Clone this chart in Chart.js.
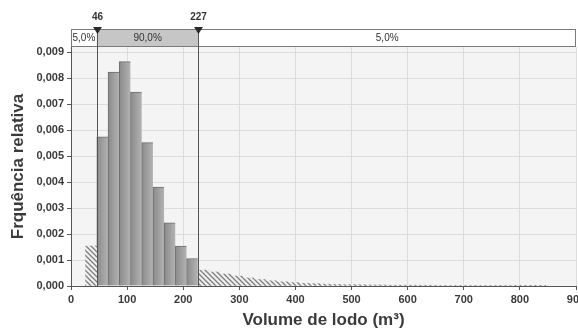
<!DOCTYPE html>
<html lang="pt">
<head>
<meta charset="UTF-8">
<title>Volume de lodo</title>
<script src="https://cdn.jsdelivr.net/npm/chart.js"></script>
<style>
    body { margin: 0; padding: 0; background: #ffffff; }
    #wrap { width: 578px; height: 331px; }
</style>
</head>
<body>
<div id="wrap"><canvas id="histChart" width="578" height="331"></canvas></div>
<script>
    // histogram bins (bin centres, m³) and relative frequencies
    const binWidth = 20;
    const lowerTailX = [36];
    const lowerTailY = [0.00154];
    const middleX = [56, 76, 96, 116, 136, 156, 176, 196, 216];
    const middleY = [0.00574, 0.00823, 0.00864, 0.00746, 0.00552, 0.00381, 0.00243, 0.00154, 0.00106];
    const upperTailX = [236, 256, 276, 296, 316, 336, 356, 376, 396, 416, 436, 456, 476, 496, 516, 536,
        556, 576, 596, 616, 636, 656, 676, 696, 716, 736, 756, 776, 796, 816, 836];
    const upperTailY = [0.00061, 0.00054, 0.00046, 0.00038, 0.00031, 0.00025, 0.00020, 0.00016, 0.00013,
        0.00010, 0.00009, 0.00007, 0.00006, 0.00005, 0.00005, 0.00004, 0.00004, 0.00003, 0.00003, 0.00003,
        0.00003, 0.00002, 0.00002, 0.00002, 0.00002, 0.00002, 0.00002, 0.00002, 0.00001, 0.00001, 0.00001];

    // percentile delimiters and band captions
    const markers = [46, 227];
    const bandLabels = ['5,0%', '90,0%', '5,0%'];

    const xTicks = [0, 100, 200, 300, 400, 500, 600, 700, 800, 900];
    const yTicks = [0, 0.001, 0.002, 0.003, 0.004, 0.005, 0.006, 0.007, 0.008, 0.009];

    const toPoints = (xs, ys) => xs.map((x, i) => ({ x: x, y: ys[i] }));

    // diagonal hatch for the tail bins
    function makeHatch() {
        const c = document.createElement('canvas');
        c.width = 5; c.height = 5;
        const g = c.getContext('2d');
        g.fillStyle = '#f0f0f0';
        g.fillRect(0, 0, 5, 5);
        g.strokeStyle = '#7e7e7e';
        g.lineWidth = 1.3;
        g.beginPath();
        g.moveTo(0, 0); g.lineTo(5, 5);
        g.moveTo(-1, 4); g.lineTo(1, 6);
        g.moveTo(4, -1); g.lineTo(6, 1);
        g.stroke();
        return g.createPattern(c, 'repeat');
    }
    const hatch = makeHatch();

    function barShade(ctx) {
        const xs = ctx.chart.scales.x;
        if (!xs || ctx.type !== 'data') return '#a0a0a0';
        const c = middleX[ctx.dataIndex];
        const x0 = xs.getPixelForValue(c - binWidth / 2);
        const x1 = xs.getPixelForValue(c + binWidth / 2);
        if (!isFinite(x0) || !isFinite(x1) || x0 === x1) return '#a0a0a0';
        const grad = ctx.chart.ctx.createLinearGradient(x0, 0, x1, 0);
        grad.addColorStop(0, '#8a8a8a');
        grad.addColorStop(1, '#b3b3b3');
        return grad;
    }

    const plotBackground = {
        id: 'plotBackground',
        beforeDraw(chart) {
            const { ctx, chartArea: a } = chart;
            ctx.save();
            ctx.fillStyle = '#f4f4f4';
            ctx.fillRect(a.left, a.top, a.right - a.left, a.bottom - a.top);
            ctx.restore();
        }
    };

    // percentile band above the plot with delimiter lines
    const delimiterBand = {
        id: 'delimiterBand',
        afterDatasetsDraw(chart) {
            const { ctx, chartArea: a, scales: { x } } = chart;
            const p0 = x.getPixelForValue(markers[0]);
            const p1 = x.getPixelForValue(markers[1]);
            const top = a.top - 18, h = 18;
            const right = a.right;
            ctx.save();
            ctx.fillStyle = '#ffffff';
            ctx.fillRect(a.left, top, right - a.left, h);
            ctx.fillStyle = '#c6c6c6';
            ctx.fillRect(p0, top, p1 - p0, h);
            ctx.strokeStyle = '#7a7a7a';
            ctx.lineWidth = 1;
            ctx.strokeRect(a.left + 0.5, top + 0.5, right - a.left - 1, h - 1);

            ctx.fillStyle = '#333';
            ctx.font = '10px "Liberation Sans Narrow", "Liberation Sans", sans-serif';
            ctx.textAlign = 'center';
            ctx.textBaseline = 'middle';
            const mids = [(a.left + p0) / 2, (p0 + p1) / 2, (p1 + right) / 2];
            bandLabels.forEach((t, i) => ctx.fillText(t, mids[i], top + h / 2));

            ctx.strokeStyle = '#555';
            [p0, p1].forEach((p, i) => {
                const px = Math.round(p) + 0.5;
                ctx.beginPath();
                ctx.moveTo(px, top);
                ctx.lineTo(px, a.bottom);
                ctx.stroke();
                ctx.beginPath();
                ctx.moveTo(px - 4.5, top - 2);
                ctx.lineTo(px + 4.5, top - 2);
                ctx.lineTo(px, top + 5);
                ctx.closePath();
                ctx.fillStyle = '#2a2a2a';
                ctx.fill();
                ctx.fillStyle = '#333';
                ctx.font = 'bold 10px "Liberation Sans Narrow", "Liberation Sans", sans-serif';
                ctx.fillText(String(markers[i]), px, top - 12);
            });
            ctx.restore();
        }
    };

    const tickFont = { family: '"Liberation Sans", Arial, sans-serif', size: 11, weight: 'bold' };
    const titleFont = { family: '"Liberation Sans", Arial, sans-serif', size: 17, weight: 'bold' };

    new Chart(document.getElementById('histChart'), {
        type: 'bar',
        data: {
            datasets: [
                {
                    data: toPoints(lowerTailX, lowerTailY),
                    backgroundColor: hatch,
                    borderWidth: 0,
                    grouped: false,
                    barPercentage: 1,
                    categoryPercentage: 1
                },
                {
                    data: toPoints(middleX, middleY),
                    backgroundColor: barShade,
                    borderColor: '#6e6e6e',
                    borderWidth: { left: 1, right: 0, top: 1, bottom: 0 },
                    borderSkipped: false,
                    grouped: false,
                    barPercentage: 1,
                    categoryPercentage: 1
                },
                {
                    data: toPoints(upperTailX, upperTailY),
                    backgroundColor: hatch,
                    borderWidth: 0,
                    grouped: false,
                    barPercentage: 1,
                    categoryPercentage: 1
                }
            ]
        },
        options: {
            responsive: false,
            animation: false,
            layout: { padding: { top: 47, right: 2, left: 0, bottom: 0 } },
            plugins: { legend: { display: false }, tooltip: { enabled: false } },
            scales: {
                x: {
                    type: 'linear',
                    min: 0,
                    max: 900,
                    offset: false,
                    afterFit: s => { s.height = 45; s.paddingRight = 0; s.paddingLeft = 0; },
                    afterBuildTicks: s => { s.ticks = xTicks.map(v => ({ value: v })); },
                    grid: { offset: false, color: '#dddddd', tickColor: '#555', tickLength: 4 },
                    border: { color: '#555', width: 1 },
                    ticks: { font: tickFont, color: '#3a3a3a', padding: 3, maxRotation: 0, autoSkip: false,
                        callback: v => String(v) },
                    title: { display: true, text: 'Volume de lodo (m³)', font: titleFont, color: '#3a3a3a',
                        padding: { top: 0, bottom: 0 } }
                },
                y: {
                    min: 0,
                    max: 0.0092,
                    afterFit: s => { s.width = 71; s.paddingTop = 0; s.paddingBottom = 0; },
                    afterBuildTicks: s => { s.ticks = yTicks.map(v => ({ value: v })); },
                    grid: { color: '#dddddd', tickColor: '#555', tickLength: 4 },
                    border: { color: '#555', width: 1 },
                    ticks: { font: tickFont, color: '#3a3a3a', padding: 3,
                        callback: v => v.toFixed(3).replace('.', ',') },
                    title: { display: true, text: 'Frquência relativa', font: titleFont, color: '#3a3a3a',
                        padding: { top: 8, bottom: 0 } }
                }
            }
        },
        plugins: [plotBackground, delimiterBand]
    });
</script>
</body>
</html>
